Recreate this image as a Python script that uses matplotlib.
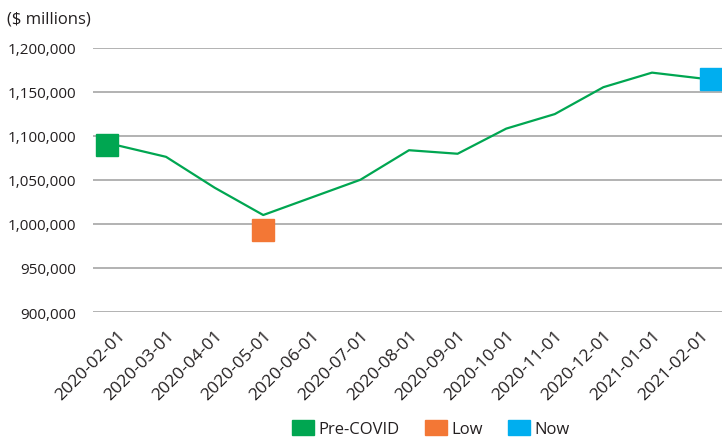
import matplotlib.pyplot as plt
from matplotlib.patches import Patch
from matplotlib.ticker import FuncFormatter

plt.rcParams['font.family'] = ['Open Sans', 'DejaVu Sans']

dates = ['2020-02-01', '2020-03-01', '2020-04-01', '2020-05-01', '2020-06-01',
         '2020-07-01', '2020-08-01', '2020-09-01', '2020-10-01', '2020-11-01',
         '2020-12-01', '2021-01-01', '2021-02-01']
values = [1089000, 1076000, 1041000, 1010000, 1030000, 1050000, 1083500,
          1079500, 1108000, 1124500, 1155000, 1171500, 1165000]

# highlighted points: (x position in months, value)
pre_covid = (-0.22, 1089000)
low = (3.0, 993000)
now = (12.22, 1164000)

green = '#00A651'
orange = '#F37735'
blue = '#00AEEF'
txt = '#231f20'

fig = plt.figure(figsize=(7.22, 4.39), dpi=100)
ax = fig.add_axes([0.129, 0.287, 0.875, 0.6025])

x = list(range(len(dates)))
ax.plot(x, values, color=green, linewidth=1.6, zorder=3)
ax.plot(*pre_covid, marker='s', markersize=15.5, color=green, linestyle='none', zorder=4)
ax.plot(*low, marker='s', markersize=15.5, color=orange, linestyle='none', zorder=4)
ax.plot(*now, marker='s', markersize=15.5, color=blue, linestyle='none', zorder=4, clip_on=False)

ax.set_xlim(-0.5, 12.5)
ax.set_ylim(900000, 1200000)
ax.set_yticks(range(900000, 1200001, 50000))
ax.yaxis.set_major_formatter(FuncFormatter(lambda v, p: f'{int(v):,}'))
ax.set_xticks(x)
ax.set_xticklabels(dates, rotation=45, ha='right', rotation_mode='anchor')
ax.tick_params(axis='both', length=0, colors=txt)
ax.tick_params(axis='y', pad=12, labelsize=11)
ax.tick_params(axis='x', pad=11, labelsize=12.5)
ax.grid(axis='y', color='#a6a6a6', linewidth=1.2)
ax.set_axisbelow(True)
for s in ax.spines.values():
    s.set_visible(False)

fig.text(0.01, 0.955, '($ millions)', fontsize=12, color=txt, va='center')

handles = [Patch(color=green, label='Pre-COVID'),
           Patch(color=orange, label='Low'),
           Patch(color=blue, label='Now')]
fig.legend(handles=handles, loc='center', bbox_to_anchor=(0.597, 0.022), ncol=3,
           frameon=False, fontsize=12, handlelength=1.3, handleheight=1.05,
           handletextpad=0.3, columnspacing=1.5, labelcolor=txt)

fig.savefig('out.png', dpi=100)
